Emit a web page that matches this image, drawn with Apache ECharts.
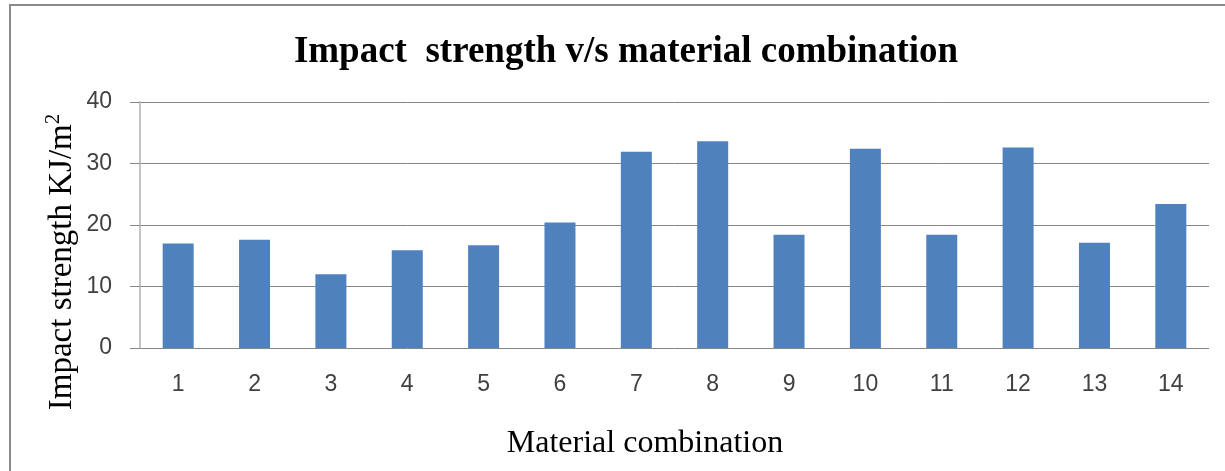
<!DOCTYPE html>
<html>
<head>
<meta charset="utf-8">
<script src="https://cdn.jsdelivr.net/npm/echarts@6/dist/echarts.min.js"></script>
<style>
  html, body { margin: 0; padding: 0; background: #ffffff; overflow: hidden; }
  #chart { width: 1225px; height: 471px; }
</style>
</head>
<body>
<div id="chart"></div>
<script>
// Material combinations on the x axis and their measured impact strength
const categories = ['1', '2', '3', '4', '5', '6', '7', '8', '9', '10', '11', '12', '13', '14'];
const impactStrength = [17.0, 17.6, 12.0, 15.9, 16.7, 20.4, 31.9, 33.6, 18.4, 32.4, 18.4, 32.6, 17.1, 23.4];
const yTicks = { min: 0, max: 40, interval: 10 };

const chart = echarts.init(document.getElementById('chart'), null, { renderer: 'canvas', width: 1225, height: 471 });

const serif = '"Liberation Serif", "Times New Roman", serif';
const sans = '"Liberation Sans", Arial, sans-serif';

chart.setOption({
  animation: false,
  backgroundColor: '#ffffff',
  title: {
    text: 'Impact  strength v/s material combination',
    left: 621,
    top: 29,
    textAlign: 'center',
    textStyle: { fontFamily: serif, fontWeight: 'bold', fontSize: 37, color: '#000000' }
  },
  graphic: [
    {
      // chart frame
      type: 'rect',
      shape: { x: 10, y: 5, width: 1240, height: 480 },
      style: { fill: 'none', stroke: '#8a8a8a', lineWidth: 2 },
      silent: true
    },
    {
      // y axis title with superscript
      type: 'text',
      x: 61,
      y: 262,
      rotation: Math.PI / 2,
      style: {
        text: '{t|Impact strength KJ/m}{s|2}',
        fill: '#000000',
        align: 'center',
        verticalAlign: 'middle',
        rich: {
          t: { fontFamily: serif, fontSize: 33, fill: '#000000', verticalAlign: 'bottom', lineHeight: 36 },
          s: { fontFamily: serif, fontSize: 21, fill: '#000000', verticalAlign: 'top', lineHeight: 36 }
        }
      }
    },
    {
      // x axis title
      type: 'text',
      x: 645,
      y: 444,
      style: {
        text: 'Material combination',
        fontFamily: serif,
        fontSize: 32,
        fill: '#000000',
        align: 'center',
        verticalAlign: 'middle'
      }
    }
  ],
  grid: { left: 140, width: 1069, top: 102, height: 246, containLabel: false },
  xAxis: {
    type: 'category',
    data: categories,
    axisLine: { show: false },
    axisTick: { show: false },
    axisLabel: { fontFamily: sans, fontSize: 23, color: '#404040', margin: 25 }
  },
  yAxis: {
    type: 'value',
    min: yTicks.min,
    max: yTicks.max,
    interval: yTicks.interval,
    axisLine: { show: true, lineStyle: { color: '#c4c4c4', width: 2 } },
    axisTick: { show: true, length: 10, lineStyle: { color: '#868686', width: 1 } },
    axisLabel: { fontFamily: sans, fontSize: 23, color: '#404040', margin: 28 },
    splitLine: { show: true, lineStyle: { color: '#868686', width: 1 } }
  },
  series: [
    {
      type: 'bar',
      data: impactStrength,
      barWidth: 31,
      itemStyle: { color: '#4f81bd' },
      z: 1
    }
  ]
});
</script>
</body>
</html>
